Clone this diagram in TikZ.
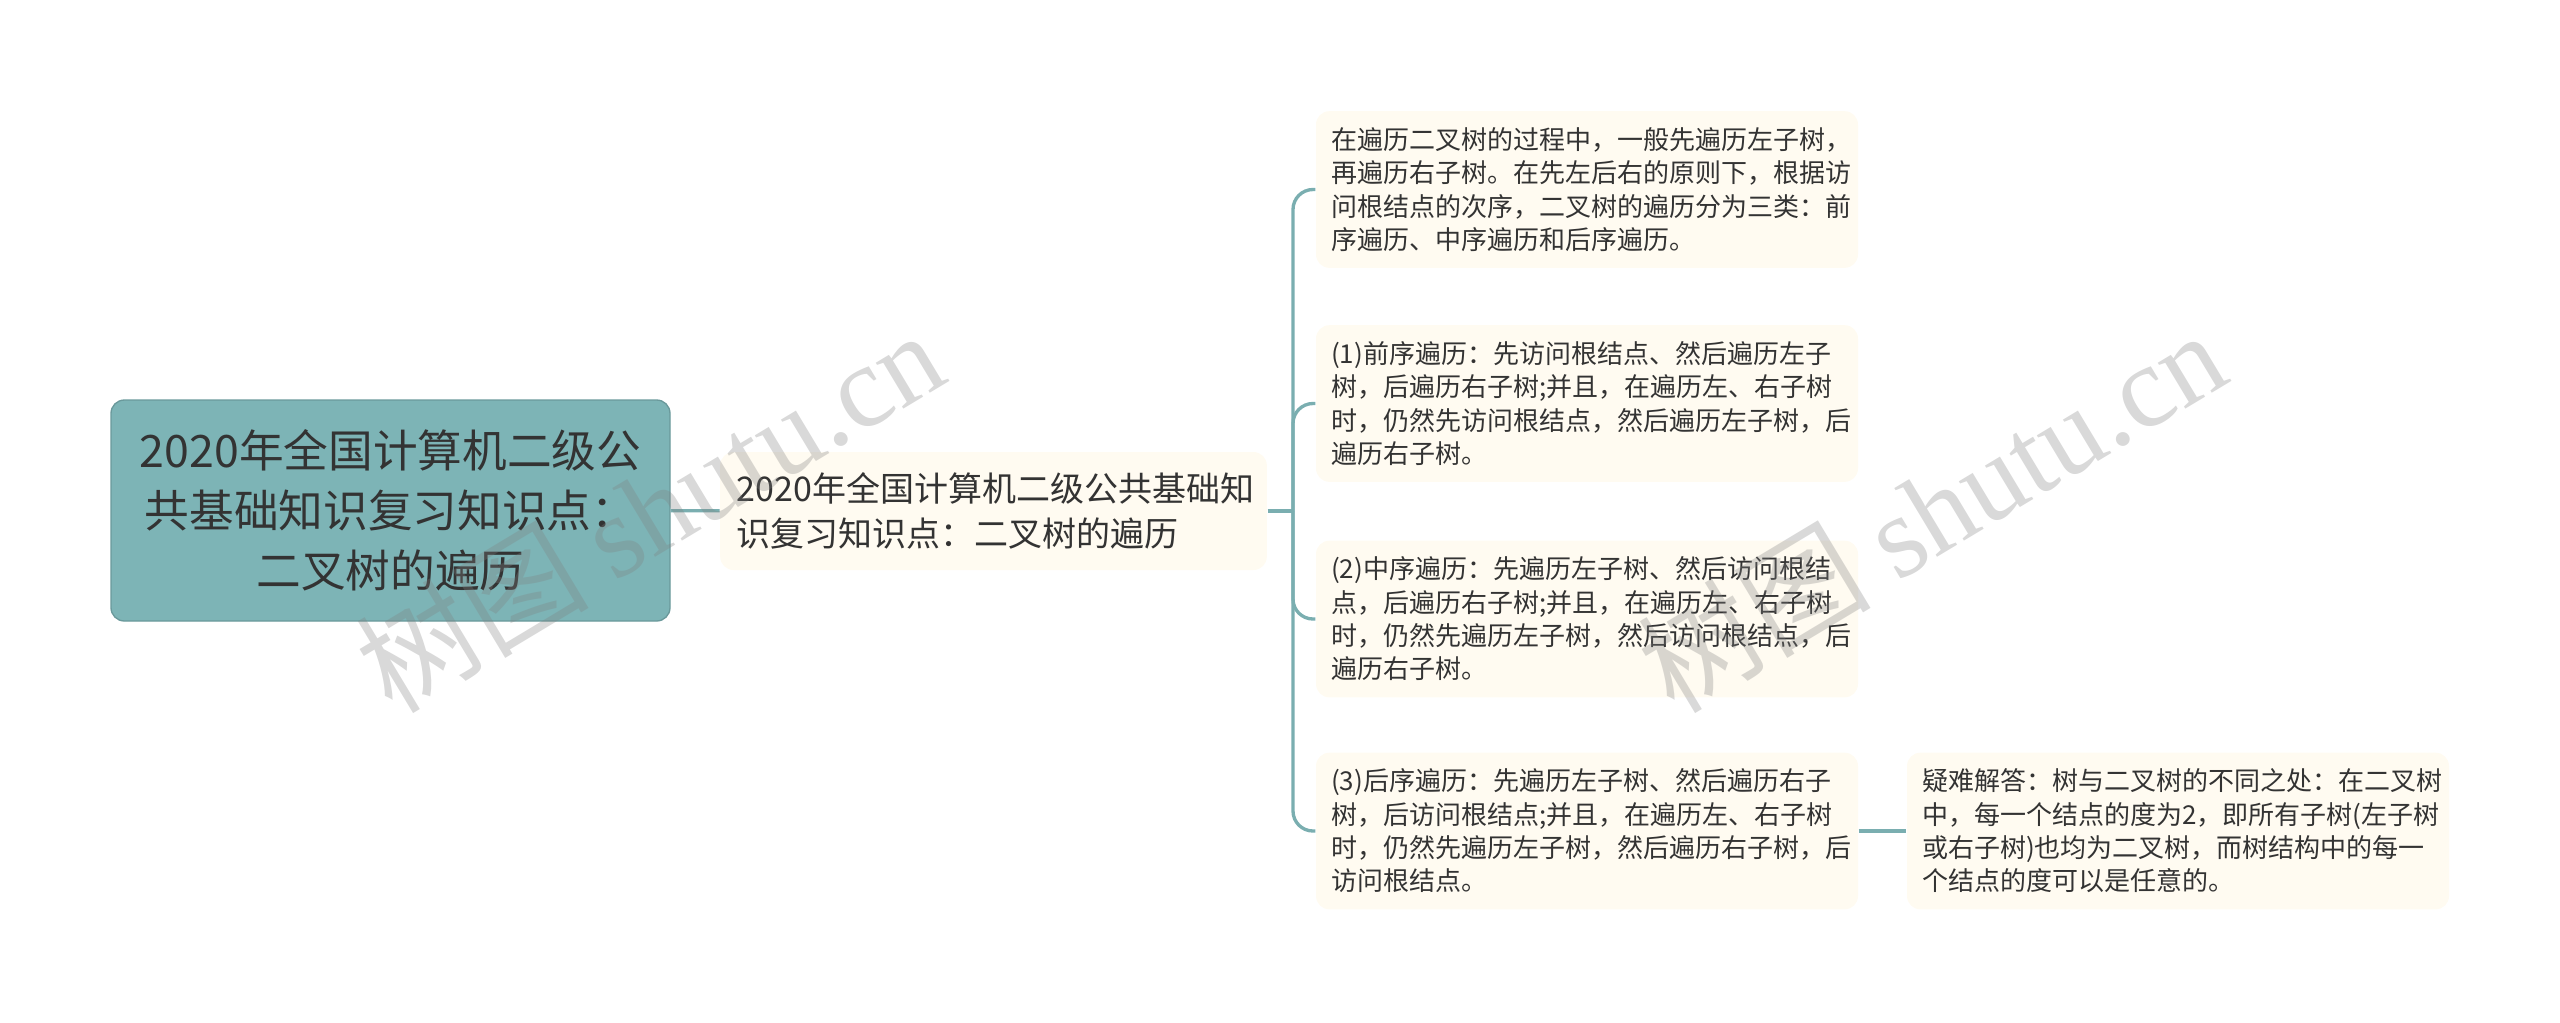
\documentclass[tikz,border=0pt]{standalone}
\usepackage{fontspec}
\setmainfont{Noto Sans CJK SC}
\newfontfamily\wmlatin{Liberation Serif}
\usetikzlibrary{positioning}
\definecolor{rootfill}{HTML}{7DB4B6}
\definecolor{linkcol}{HTML}{7AAEB0}
\definecolor{cream}{HTML}{FFFBF1}
\definecolor{ink}{HTML}{333333}
\tikzset{
  rootbox/.style={draw=rootfill!85!black,fill=rootfill,rounded corners=4pt,
    minimum width=167.7pt,minimum height=66.3pt,align=center,text=ink,
    font=\fontsize{13.4}{18}\selectfont,inner sep=0pt},
  midbox/.style={fill=cream,rounded corners=4pt,minimum height=35.4pt,
    text width=154pt,inner xsep=5pt,align=left,text=ink,
    font=\fontsize{10.2}{13.7}\selectfont},
  leafbox/.style={fill=cream,rounded corners=4pt,minimum height=47pt,
    text width=153.6pt,inner xsep=4.5pt,align=left,text=ink,
    font=\fontsize{7.8}{10}\selectfont},
  link/.style={draw=linkcol,line width=1pt,rounded corners=6pt},
  wmark/.style={text=gray,opacity=0.3,rotate=31,font=\fontsize{35}{35}\selectfont}
}

\begin{document}
\begin{tikzpicture}[x=0.3pt,y=-0.3pt]
\useasboundingbox (0,0) rectangle (2560,1022);
\coordinate (spine) at (1293,511);
\node[rootbox] (root) at (390.5,510.5) {2020年全国计算机二级公\\共基础知识复习知识点：\\二叉树的遍历};
\node[midbox] (mid) at (993.5,511) {2020年全国计算机二级公共基础知\\识复习知识点：二叉树的遍历};
\node[leafbox] (intro) at (1587,189.5) {在遍历二叉树的过程中，一般先遍历左子树，\\再遍历右子树。在先左后右的原则下，根据访\\问根结点的次序，二叉树的遍历分为三类：前\\序遍历、中序遍历和后序遍历。};
\node[leafbox] (pre) at (1587,403.5) {(1)前序遍历：先访问根结点、然后遍历左子\\树，后遍历右子树;并且，在遍历左、右子树\\时，仍然先访问根结点，然后遍历左子树，后\\遍历右子树。};
\node[leafbox] (in) at (1587,619) {(2)中序遍历：先遍历左子树、然后访问根结\\点，后遍历右子树;并且，在遍历左、右子树\\时，仍然先遍历左子树，然后访问根结点，后\\遍历右子树。};
\node[leafbox] (post) at (1587,831) {(3)后序遍历：先遍历左子树、然后遍历右子\\树，后访问根结点;并且，在遍历左、右子树\\时，仍然先遍历左子树，然后遍历右子树，后\\访问根结点。};
\node[leafbox] (faq) at (2178,831) {疑难解答：树与二叉树的不同之处：在二叉树\\中，每一个结点的度为2，即所有子树(左子树\\或右子树)也均为二叉树，而树结构中的每一\\个结点的度可以是任意的。};
\draw[link] (root) -- (mid);
\draw[link] (mid.east) -- (spine);
\foreach \leaf in {intro,pre,in,post}
  \draw[link] (spine) |- (\leaf.west);
\draw[link] (post) -- (faq);
\node[wmark] (wm1) at (649,510) {树图 {\wmlatin shutu.cn}};
\node[wmark] (wm2) at (1931,510) {树图 {\wmlatin shutu.cn}};
\end{tikzpicture}
\end{document}
